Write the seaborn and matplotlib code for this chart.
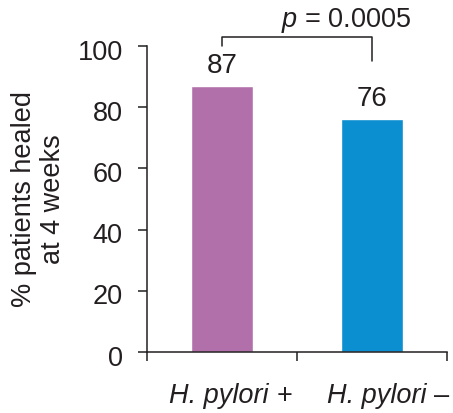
import matplotlib
matplotlib.use("Agg")
import matplotlib.pyplot as plt
import matplotlib.transforms as mtransforms
import seaborn as sns
import pandas as pd

# ---- data ----
groups = ["H. pylori +", "H. pylori \u2013"]
healed_pct = [87, 76]
value_labels = ["87", "76"]
yticks = [0, 20, 40, 60, 80, 100]
bar_colors = ["#B270AA", "#0B8FD0"]
p_text = "$p$ = 0.0005"
ylabel = "% patients healed\nat 4 weeks"

sns.set_theme(style="white")
plt.rcParams["font.family"] = ["Liberation Sans", "DejaVu Sans"]
plt.rcParams["mathtext.fontset"] = "custom"
plt.rcParams["mathtext.rm"] = "Liberation Sans"
plt.rcParams["mathtext.it"] = "Liberation Sans:italic"

txt = "#231F20"
fs = 19.5

df = pd.DataFrame({"group": groups, "pct": healed_pct})

fig = plt.figure(figsize=(4.53, 4.13), dpi=100)
ax = fig.add_axes([147 / 453, 1 - 352 / 413, 300 / 453, (352 - 46) / 413])

sns.barplot(data=df, x="group", y="pct", hue="group", palette=bar_colors,
            width=0.41, ax=ax, legend=False, saturation=1)

ax.set_xlim(-0.5, 1.5)
ax.set_ylim(0, 100)
ax.set_yticks(yticks)
ax.set_yticklabels([str(v) for v in yticks])
ax.tick_params(axis="y", direction="out", length=6.5, width=1.1, pad=11,
               labelsize=fs, colors=txt, left=True)
shift = mtransforms.ScaledTranslation(0, -3.5 / 100, fig.dpi_scale_trans)
for lab in ax.get_yticklabels():
    lab.set_transform(lab.get_transform() + shift)
ax.set_xticks([-0.5, 0.5, 1.5])
ax.set_xticklabels([])
ax.tick_params(axis="x", direction="out", length=6.5, width=1.1, bottom=True,
               colors=txt)
ax.set_xlabel("")
for s in ["top", "right"]:
    ax.spines[s].set_visible(False)
for s in ["left", "bottom"]:
    ax.spines[s].set_color(txt)
    ax.spines[s].set_linewidth(1.1)

ax.set_ylabel(ylabel, fontsize=fs, color=txt, linespacing=1.15)
ax.yaxis.set_label_coords(-0.27, 0.5)

# category labels: italic species name + upright sign
trans = mtransforms.blended_transform_factory(ax.transData, ax.transAxes)
split_x = [0.335, 1.39]
gap = 0.026
for xs, g in zip(split_x, groups):
    name, sign = g.rsplit(" ", 1)
    ax.text(xs - gap, -0.1667, name, transform=trans, ha="right",
            va="baseline", fontsize=fs, color=txt, style="italic")
    ax.text(xs + gap, -0.1667, sign, transform=trans, ha="left",
            va="baseline", fontsize=fs, color=txt)

# value labels
for cont, lab in zip(ax.containers, value_labels):
    ax.bar_label(cont, labels=[lab], padding=5, fontsize=fs + 0.5, color=txt)

# significance bracket
x0, x1 = 0, 1
ax.plot([x0, x0, x1, x1], [100, 103, 103, 95], color=txt, lw=1.1,
        clip_on=False)
ax.text(0.83, 106.2, p_text, ha="center", va="baseline", fontsize=fs,
        color=txt)

fig.savefig("out.png", dpi=100)
